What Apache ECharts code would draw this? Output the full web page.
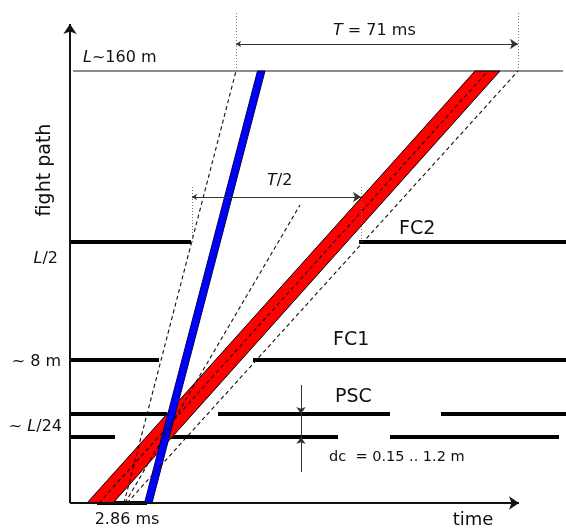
<!DOCTYPE html>
<html>
<head>
<meta charset="utf-8">
<script src="https://cdn.jsdelivr.net/npm/echarts@6/dist/echarts.min.js"></script>
<style>html,body{margin:0;padding:0;background:#fff}#c{width:566px;height:529px}</style>
</head>
<body>
<div id="c"></div>
<script>
// ---- diagram data (schematic units: time along x, flight path along y) ----
const levelNames   = ['FC2', 'FC1', 'PSC', 'PSC'];
const levelHeights = [261, 143, 89, 66];
const levelSpans   = [
  [[0, 121], [289, 496]],
  [[0, 89], [183, 496]],
  [[0, 97], [148, 320], [371, 496]],
  [[0, 45], [93, 268], [320, 489]]
];
const topLevel     = 432;            // L ~ 160 m
const topLineSpan  = [3, 493];
const redBand      = [[17, 0], [43, 0], [430, 432], [405, 432]];
const blueBand     = [[74.5, 0], [82, 0], [195, 432], [187.5, 432]];
const dashedPaths  = [
  [[54, 0], [166, 432]],
  [[55, 0], [230, 298]],
  [[29, 0], [418, 432]],
  [[57, 0], [448, 432]]
];
const startMarker  = [[27, 0], [77, 0]];   // 2.86 ms
const tSpan        = [166, 448];  const tLevel = 459;   // T = 71 ms
const halfTSpan    = [122, 291];  const halfTLevel = 306; // T/2
const tGuideTop    = 490;  const halfGuideTop = 318;
const dcPos        = 231;  const dcEnds = [118, 31];

const FONT = 'DejaVu Sans';
const chart = echarts.init(document.getElementById('c'), null, {renderer: 'canvas'});

const segData = [];
levelHeights.forEach((h, i) => levelSpans[i].forEach(s => segData.push({coords: [[s[0], h], [s[1], h]]})));

function polySeries(points, fill, stroke) {
  return {
    type: 'custom', coordinateSystem: 'cartesian2d', silent: true,
    data: points,
    renderItem: (params, api) => {
      if (params.dataIndex !== 0) return;
      return {type: 'polygon', shape: {points: points.map(p => api.coord(p))},
              style: {fill: fill, stroke: stroke, lineWidth: 1}};
    }
  };
}

const option = {
  animation: false,
  grid: {left: 70, right: 0, top: 0, bottom: 26},
  xAxis: {type: 'value', min: 0, max: 496, show: false},
  yAxis: {type: 'value', min: 0, max: 503, show: false},
  series: [
    { // top level line
      type: 'lines', coordinateSystem: 'cartesian2d', clip: false, silent: true,
      lineStyle: {color: '#666', width: 1.5, opacity: 1},
      data: [{coords: [[topLineSpan[0], topLevel], [topLineSpan[1], topLevel]]}]
    },
    { // detector levels
      type: 'lines', coordinateSystem: 'cartesian2d', clip: false, silent: true,
      lineStyle: {color: '#000', width: 4, opacity: 1},
      data: segData.concat([{coords: startMarker}])
    },
    polySeries(redBand, '#ff0000', '#000'),
    polySeries(blueBand, '#0000ff', '#00004a'),
    { // dashed guides
      type: 'lines', coordinateSystem: 'cartesian2d', clip: false, silent: true,
      lineStyle: {color: '#111', width: 1.1, type: [4, 3], opacity: 1},
      data: dashedPaths.map(p => ({coords: p}))
    },
    { // dotted verticals
      type: 'lines', coordinateSystem: 'cartesian2d', clip: false, silent: true,
      lineStyle: {color: '#777', width: 1, type: [1, 2], opacity: 1},
      data: [
        {coords: [[tSpan[0], topLevel], [tSpan[0], tGuideTop]]},
        {coords: [[tSpan[1], topLevel], [tSpan[1], tGuideTop]]},
        {coords: [[halfTSpan[0], levelHeights[0]], [halfTSpan[0], halfGuideTop]]},
        {coords: [[halfTSpan[1], levelHeights[0]], [halfTSpan[1], halfGuideTop]]}
      ]
    },
    { // dimension arrows
      type: 'lines', coordinateSystem: 'cartesian2d', clip: false, silent: true,
      symbol: ['arrow', 'arrow'], symbolSize: [5, 8],
      lineStyle: {color: '#333', width: 1, opacity: 1},
      data: [
        {coords: [[tSpan[0], tLevel], [tSpan[1], tLevel]]},
        {coords: [[halfTSpan[0], halfTLevel], [halfTSpan[1], halfTLevel]]}
      ]
    },
    { // dc arrows
      type: 'lines', coordinateSystem: 'cartesian2d', clip: false, silent: true,
      symbol: ['none', 'arrow'], symbolSize: [5, 7],
      lineStyle: {color: '#333', width: 1, opacity: 1},
      data: [
        {coords: [[dcPos, dcEnds[0]], [dcPos, levelHeights[2]]]},
        {coords: [[dcPos, dcEnds[1]], [dcPos, levelHeights[3]]]}
      ]
    },
    {
      type: 'lines', coordinateSystem: 'cartesian2d', clip: false, silent: true,
      lineStyle: {color: '#333', width: 1, opacity: 1},
      data: [{coords: [[dcPos, levelHeights[2]], [dcPos, levelHeights[3]]]}]
    },
    { // axes
      type: 'lines', coordinateSystem: 'cartesian2d', clip: false, silent: true,
      symbol: ['none', 'arrow'], symbolSize: [7, 10],
      lineStyle: {color: '#111', width: 2, opacity: 1},
      data: [
        {coords: [[0, 0], [0, 479]]},
        {coords: [[0, 0], [449, 0]]}
      ]
    }
  ],
  graphic: []
};

function txt(text, x, y, size, extra) {
  return Object.assign({
    type: 'text', x: x, y: y, silent: true,
    style: Object.assign({
      text: text, fontFamily: FONT, fontSize: size, fill: '#111',
      align: 'left', verticalAlign: 'middle',
      rich: {i: {fontStyle: 'italic', fontFamily: FONT, fontSize: size, fill: '#111'}}
    }, (extra && extra.style) || {})
  }, (extra && extra.el) || {});
}

option.graphic = [
  txt('{i|L}~160 m', 83, 58, 16),
  txt('{i|T} = 71 ms', 333, 31, 16),
  txt('{i|T}/2', 267, 181, 16),
  txt(levelNames[0], 399, 229, 19),
  txt(levelNames[1], 333, 340, 19),
  txt(levelNames[2], 335, 397, 19),
  txt('dc  = 0.15 .. 1.2 m', 329, 457, 14.5),
  txt('{i|L}/2', 58, 259, 16, {style: {align: 'right'}}),
  txt('~ 8 m', 61, 362, 16, {style: {align: 'right'}}),
  txt('~ {i|L}/24', 62, 427, 16, {style: {align: 'right'}}),
  txt('2.86 ms', 127, 520, 16, {style: {align: 'center'}}),
  txt('time', 473, 520, 18, {style: {align: 'center'}}),
  txt('fight path', 45, 170, 19, {style: {align: 'center'}, el: {rotation: Math.PI / 2}})
];

chart.setOption(option);
</script>
</body>
</html>
